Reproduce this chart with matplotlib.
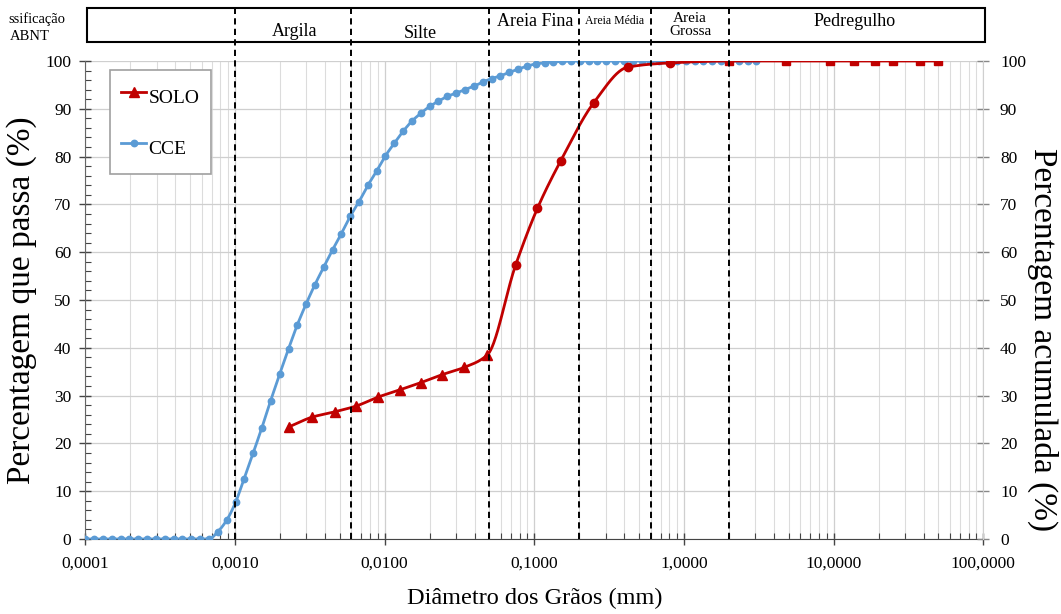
import numpy as np
import matplotlib

matplotlib.use("Agg")
import matplotlib.pyplot as plt
import matplotlib.transforms as mtransforms
from matplotlib.lines import Line2D
from matplotlib.patches import Rectangle
from matplotlib.ticker import FixedLocator, FixedFormatter, LogLocator, NullFormatter, MultipleLocator


# CCE - laser granulometry (mm, % passing)
cce_diam = [
    0.000100, 0.000115, 0.000131, 0.000150, 0.000172, 0.000197, 0.000226, 0.000259,
    0.000296, 0.000340, 0.000389, 0.000446, 0.000511, 0.000585, 0.000670, 0.000767,
    0.000879, 0.00101, 0.00115, 0.00132, 0.00151, 0.00173, 0.00199, 0.00228,
    0.00261, 0.00299, 0.00342, 0.00392, 0.00449, 0.00514, 0.00589, 0.00675,
    0.00773, 0.00885, 0.0101, 0.0116, 0.0133, 0.0152, 0.0175, 0.0200,
    0.0229, 0.0262, 0.0301, 0.0344, 0.0394, 0.0452, 0.0518, 0.0593,
    0.0679, 0.0778, 0.0891, 0.102, 0.117, 0.134, 0.153, 0.176,
    0.201, 0.231, 0.264, 0.303, 0.347, 0.397, 0.455, 0.521,
    0.597, 0.684, 0.783, 0.897, 1.028, 1.178, 1.349, 1.545,
    1.770, 2.028, 2.323, 2.661, 3.048,
]
cce_pass = [
    0.0, 0.0, 0.0, 0.0, 0.0, 0.0, 0.0, 0.0,
    0.0, 0.0, 0.0, 0.0, 0.0, 0.0, 0.0, 1.5,
    3.9, 7.7, 12.6, 17.9, 23.2, 28.9, 34.5, 39.8,
    44.8, 49.2, 53.2, 56.9, 60.5, 63.9, 67.5, 70.6,
    74.0, 77.0, 80.1, 82.8, 85.3, 87.4, 89.1, 90.5,
    91.6, 92.6, 93.3, 94.0, 94.7, 95.6, 96.3, 96.9,
    97.6, 98.3, 98.9, 99.4, 99.6, 99.8, 99.9, 100.0,
    100.0, 100.0, 100.0, 100.0, 100.0, 100.0, 100.0, 100.0,
    100.0, 100.0, 100.0, 100.0, 100.0, 100.0, 100.0, 100.0,
    100.0, 100.0, 100.0, 100.0, 100.0,
]

# SOLO - sedimentation + sieving (mm, % passing)
solo_sed_diam = [0.00231, 0.00328, 0.00463, 0.00643, 0.00906, 0.0126, 0.0174, 0.0243, 0.0340, 0.0485]
solo_sed_pass = [23.5, 25.5, 26.6, 27.8, 29.7, 31.2, 32.7, 34.4, 35.9, 38.5]
solo_fine_diam = [0.075, 0.105, 0.15, 0.25, 0.42, 0.81]
solo_fine_pass = [57.3, 69.2, 79.1, 91.3, 98.7, 99.6]
solo_coarse_diam = [2.0, 4.8, 9.5, 13.6, 19.0, 25.0, 38.0, 50.0]
solo_coarse_pass = [100.0, 100.0, 100.0, 100.0, 100.0, 100.0, 100.0, 100.0]

# ABNT class boundaries (mm)
class_limits = [0.001, 0.006, 0.05, 0.2, 0.6, 2.0]

x_ticks = [0.0001, 0.001, 0.01, 0.1, 1.0, 10.0, 100.0]
x_tick_labels = ["0,0001", "0,0010", "0,0100", "0,1000", "1,0000", "10,0000", "100,0000"]

BLUE = "#5b9bd5"
RED = "#c00000"
SERIF = ["Liberation Serif", "DejaVu Serif"]


def smooth_curve(xs, ys, n=40):
    """Monotone cubic (Fritsch-Carlson) through the points in log10(x)."""
    lx = np.log10(np.asarray(xs, float))
    y = np.asarray(ys, float)
    h = np.diff(lx)
    d = np.diff(y) / h
    m = np.zeros_like(y)
    m[0], m[-1] = d[0], d[-1]
    for i in range(1, len(y) - 1):
        if d[i - 1] * d[i] <= 0:
            m[i] = 0.0
        else:
            w1 = 2 * h[i] + h[i - 1]
            w2 = h[i] + 2 * h[i - 1]
            m[i] = (w1 + w2) / (w1 / d[i - 1] + w2 / d[i])
    out_x, out_y = [], []
    for i in range(len(h)):
        t = np.linspace(0, 1, n, endpoint=(i == len(h) - 1))
        h00 = 2 * t**3 - 3 * t**2 + 1
        h10 = t**3 - 2 * t**2 + t
        h01 = -2 * t**3 + 3 * t**2
        h11 = t**3 - t**2
        out_x.append(lx[i] + t * h[i])
        out_y.append(h00 * y[i] + h10 * h[i] * m[i] + h01 * y[i + 1] + h11 * h[i] * m[i + 1])
    return 10 ** np.concatenate(out_x), np.concatenate(out_y)


plt.rcParams["font.family"] = SERIF

W, H = 1061, 614
fig = plt.figure(figsize=(W / 100, H / 100), dpi=100)
ax = fig.add_axes([85.3 / W, 1 - 539 / H, 898 / W, 478 / H])

ax.set_xscale("log")
ax.set_xlim(1e-4, 100)
ax.set_ylim(0, 100)

# grid
ax.xaxis.set_major_locator(FixedLocator(x_ticks))
ax.xaxis.set_major_formatter(FixedFormatter(x_tick_labels))
ax.xaxis.set_minor_locator(LogLocator(base=10, subs=np.arange(2, 10), numticks=20))
ax.xaxis.set_minor_formatter(NullFormatter())
ax.yaxis.set_major_locator(MultipleLocator(10))
ax.yaxis.set_minor_locator(MultipleLocator(2))
ax.grid(True, which="major", color="#cfcfcf", lw=0.9)
ax.grid(True, which="minor", axis="x", color="#dcdcdc", lw=0.8)
ax.set_axisbelow(True)

ax.tick_params(axis="x", which="major", direction="inout", length=8, width=1.0, color="#444444",
               labelsize=12.5, pad=8)
ax.tick_params(axis="x", which="minor", direction="in", length=4, width=0.8, color="#444444")
ax.tick_params(axis="y", which="major", direction="inout", length=8, width=1.0, color="#444444",
               labelsize=12.5, pad=6)
ax.tick_params(axis="y", which="minor", direction="in", length=4, width=0.8, color="#444444")
for side in ("top", "right"):
    ax.spines[side].set_visible(False)
ax.spines["bottom"].set_color("#444444")
ax.spines["left"].set_color("#666666")

# second y axis
ax2 = ax.twinx()
ax2.set_ylim(0, 100)
ax2.yaxis.set_major_locator(MultipleLocator(10))
ax2.tick_params(axis="y", direction="inout", length=8, width=1.0, color="#888888", labelsize=12.5, pad=8)
for side in ("top", "left", "bottom"):
    ax2.spines[side].set_visible(False)
ax2.spines["right"].set_color("#cfcfcf")
ax2.set_ylabel("Percentagem acumulada (%)", fontsize=24, rotation=270, va="center")
ax2.yaxis.set_label_coords((1043 - 85.3) / 898, (539 - 340) / 478)

# CCE
sx, sy = smooth_curve(cce_diam, cce_pass)
ax.plot(sx, sy, color=BLUE, lw=2.0, zorder=3)
ax.plot(cce_diam, cce_pass, ls="none", marker="o", ms=4.6, color=BLUE, zorder=4)

# SOLO
solo_diam = solo_sed_diam + solo_fine_diam + solo_coarse_diam
solo_pass = solo_sed_pass + solo_fine_pass + solo_coarse_pass
sx, sy = smooth_curve(solo_diam, solo_pass)
ax.plot(sx, sy, color=RED, lw=2.0, zorder=5)
ax.plot(solo_sed_diam, solo_sed_pass, ls="none", marker="^", ms=6.5, color=RED, zorder=6)
ax.plot(solo_fine_diam, solo_fine_pass, ls="none", marker="o", ms=6.0, color=RED, zorder=6)
ax.plot(solo_coarse_diam, solo_coarse_pass, ls="none", marker="s", ms=5.8, color=RED, zorder=6)

# class boundaries, running up through the header band
blend = mtransforms.blended_transform_factory(ax.transData, ax.transAxes)
top = (539 - 4) / 478
for lim in class_limits:
    ax.plot([lim, lim], [0, top], transform=blend, color="black", lw=1.4,
            ls=(0, (3.2, 2.2)), clip_on=False, zorder=7)

# header band with the ABNT classes
fig.patches.append(Rectangle((87 / W, 1 - 42 / H), (985 - 87) / W, 34 / H, transform=fig.transFigure,
                             fill=False, edgecolor="black", lw=1.5))
header = [
    ("Argila", 295, 31, 13),
    ("Silte", 420, 34, 13),
    ("Areia Fina", 535, 21, 13),
    ("Areia Média", 615, 21, 8.5),
    ("Areia\nGrossa", 690, 25, 11),
    ("Pedregulho", 855, 22, 13),
]
for text, px, py, fs in header:
    fig.text(px / W, 1 - py / H, text, ha="center", va="center", fontsize=fs, linespacing=0.95)
fig.text(8 / W, 1 - 19 / H, "ssificação", ha="left", va="center", fontsize=10.5)
fig.text(10 / W, 1 - 36 / H, "ABNT", ha="left", va="center", fontsize=10.5)

ax.set_xlabel("Diâmetro dos Grãos (mm)", fontsize=17.5, labelpad=12)
ax.set_ylabel("Percentagem que passa (%)", fontsize=24, labelpad=6)

handles = [
    Line2D([], [], color=RED, lw=2.0, marker="^", ms=6.5),
    Line2D([], [], color=BLUE, lw=2.0, marker="o", ms=4.6),
]
leg = ax.legend(handles, ["SOLO", "CCE"], loc="upper left", bbox_to_anchor=(0.027, 0.981),
                fontsize=14, handlelength=1.3, handleheight=2.0, handletextpad=0.1, labelspacing=1.06,
                borderpad=0.6, borderaxespad=0, fancybox=False, framealpha=1)
leg.get_frame().set_edgecolor("#a0a0a0")
leg.get_frame().set_linewidth(1.2)

fig.savefig("out.png", dpi=100)
